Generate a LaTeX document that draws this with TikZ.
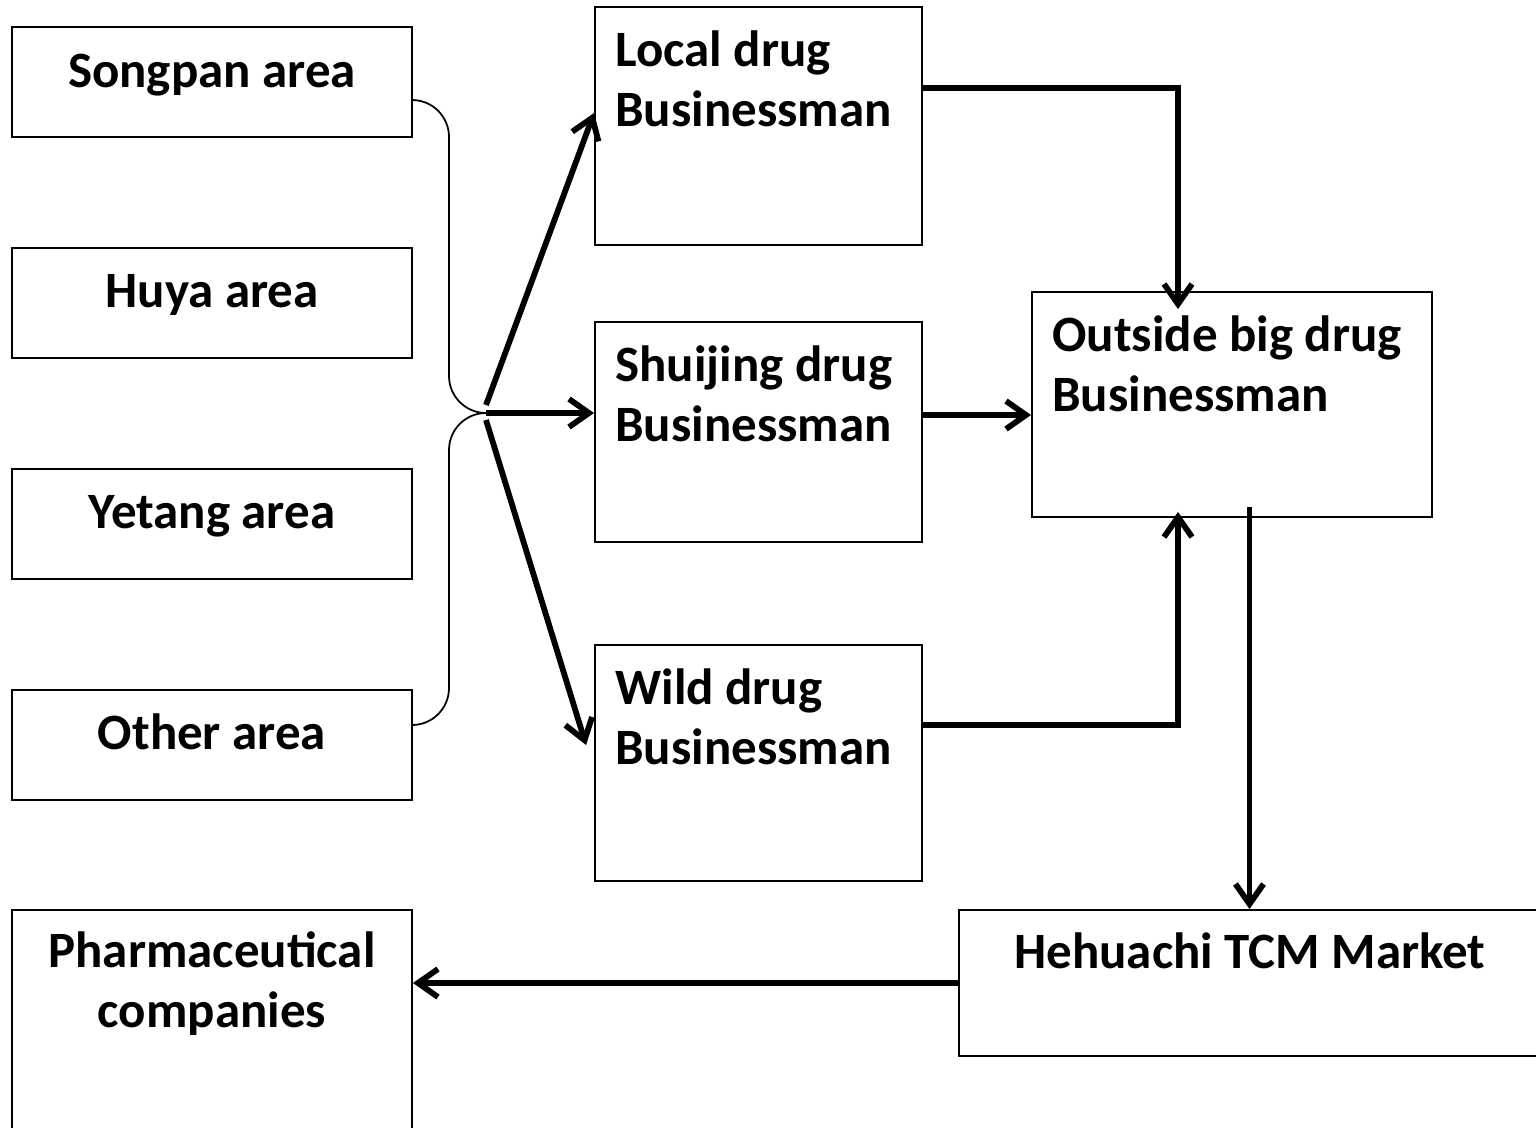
\documentclass[tikz,border=0pt]{standalone}
\usepackage{fontspec}
\setmainfont{Carlito}
\usetikzlibrary{arrows.meta,positioning}

\tikzset{
  box/.style={draw, line width=1.1pt, inner sep=0pt},
  lbl/.style={font=\bfseries\fontsize{29}{34}\selectfont, inner sep=0pt, align=left},
  flow/.style={line width=3.3pt, -{Straight Barb[length=4mm,width=5.6mm]}},
  brace/.style={line width=1pt, rounded corners=0.74cm}
}

\begin{document}
\begin{tikzpicture}[x=0.02cm,y=-0.02cm]
   \useasboundingbox (0,0) rectangle (1536,1127);

   % source areas
   \node[box, minimum width=8cm, minimum height=2.2cm] (songpan) at (212,82) {};
   \node[box, minimum width=8cm, minimum height=2.2cm] (huya) at (212,303) {};
   \node[box, minimum width=8cm, minimum height=2.2cm] (yetang) at (212,524) {};
   \node[box, minimum width=8cm, minimum height=2.2cm] (other) at (212,745) {};
   \node[lbl, anchor=base] (songpan-t) at (212,87) {Songpan area};
   \node[lbl, anchor=base] (huya-t) at (212,307) {Huya area};
   \node[lbl, anchor=base] (yetang-t) at (212,528) {Yetang area};
   \node[lbl, anchor=base] (other-t) at (212,749) {Other area};

   % businessmen
   \node[box, minimum width=6.54cm, minimum height=4.76cm] (local) at (758.5,126) {};
   \node[box, minimum width=6.54cm, minimum height=4.4cm] (shuijing) at (758.5,432) {};
   \node[box, minimum width=6.54cm, minimum height=4.72cm] (wild) at (758.5,763) {};
   \node[box, minimum width=8cm, minimum height=4.5cm] (outside) at (1232,404.5) {};
   \node[lbl, anchor=base west] (local-t) at (615,126) {Local drug\\Businessman};
   \node[lbl, anchor=base west] (shuijing-t) at (615,441) {Shuijing drug\\Businessman};
   \node[lbl, anchor=base west] (wild-t) at (615,764) {Wild drug\\Businessman};
   \node[lbl, anchor=base west] (outside-t) at (1052,411) {Outside big drug\\Businessman};

   % market and buyers
   \node[box, minimum width=11.62cm, minimum height=2.92cm] (hehuachi) at (1249.5,983) {};
   \node[box, minimum width=8cm, minimum height=4.5cm] (pharma) at (212,1022.5) {};
   \node[lbl, anchor=base] (hehuachi-t) at (1250,968) {Hehuachi TCM Market};
   \node[lbl, anchor=base, align=center] (pharma-t) at (212,1027) {Pharmaceutical\\companies};

   % brace
   \coordinate (tip) at (486,413);
   \draw[brace] ([yshift=-0.36cm]songpan.east) -| (tip -| 449,0) -- (tip);
   \draw[brace] (tip) -| ([yshift=0.4cm]other.east -| 449,0) -- ([yshift=0.4cm]other.east);

   \draw[flow] ([yshift=0.16cm]tip) -- ([yshift=0.26cm]local.west);
   \draw[flow] (tip) -- (shuijing.west |- tip);
   \draw[flow] ([yshift=-0.14cm]tip) -- ([xshift=-0.16cm,yshift=0.36cm]wild.west);

   \draw[flow, shorten >=-0.36cm] (local.east |- 0,88) -| ([xshift=-1.08cm]outside.north);
   \draw[flow] (shuijing.east |- 0,415) -- (outside.west |- 0,415);
   \draw[flow, shorten >=-0.12cm] (wild.east |- 0,725) -| ([xshift=-1.08cm]outside.south);
   \draw[flow] (hehuachi.north |- 0,507) -- (hehuachi.north);
   \draw[flow] (hehuachi.west |- 0,983) -- (pharma.east |- 0,983);
\end{tikzpicture}
\end{document}
